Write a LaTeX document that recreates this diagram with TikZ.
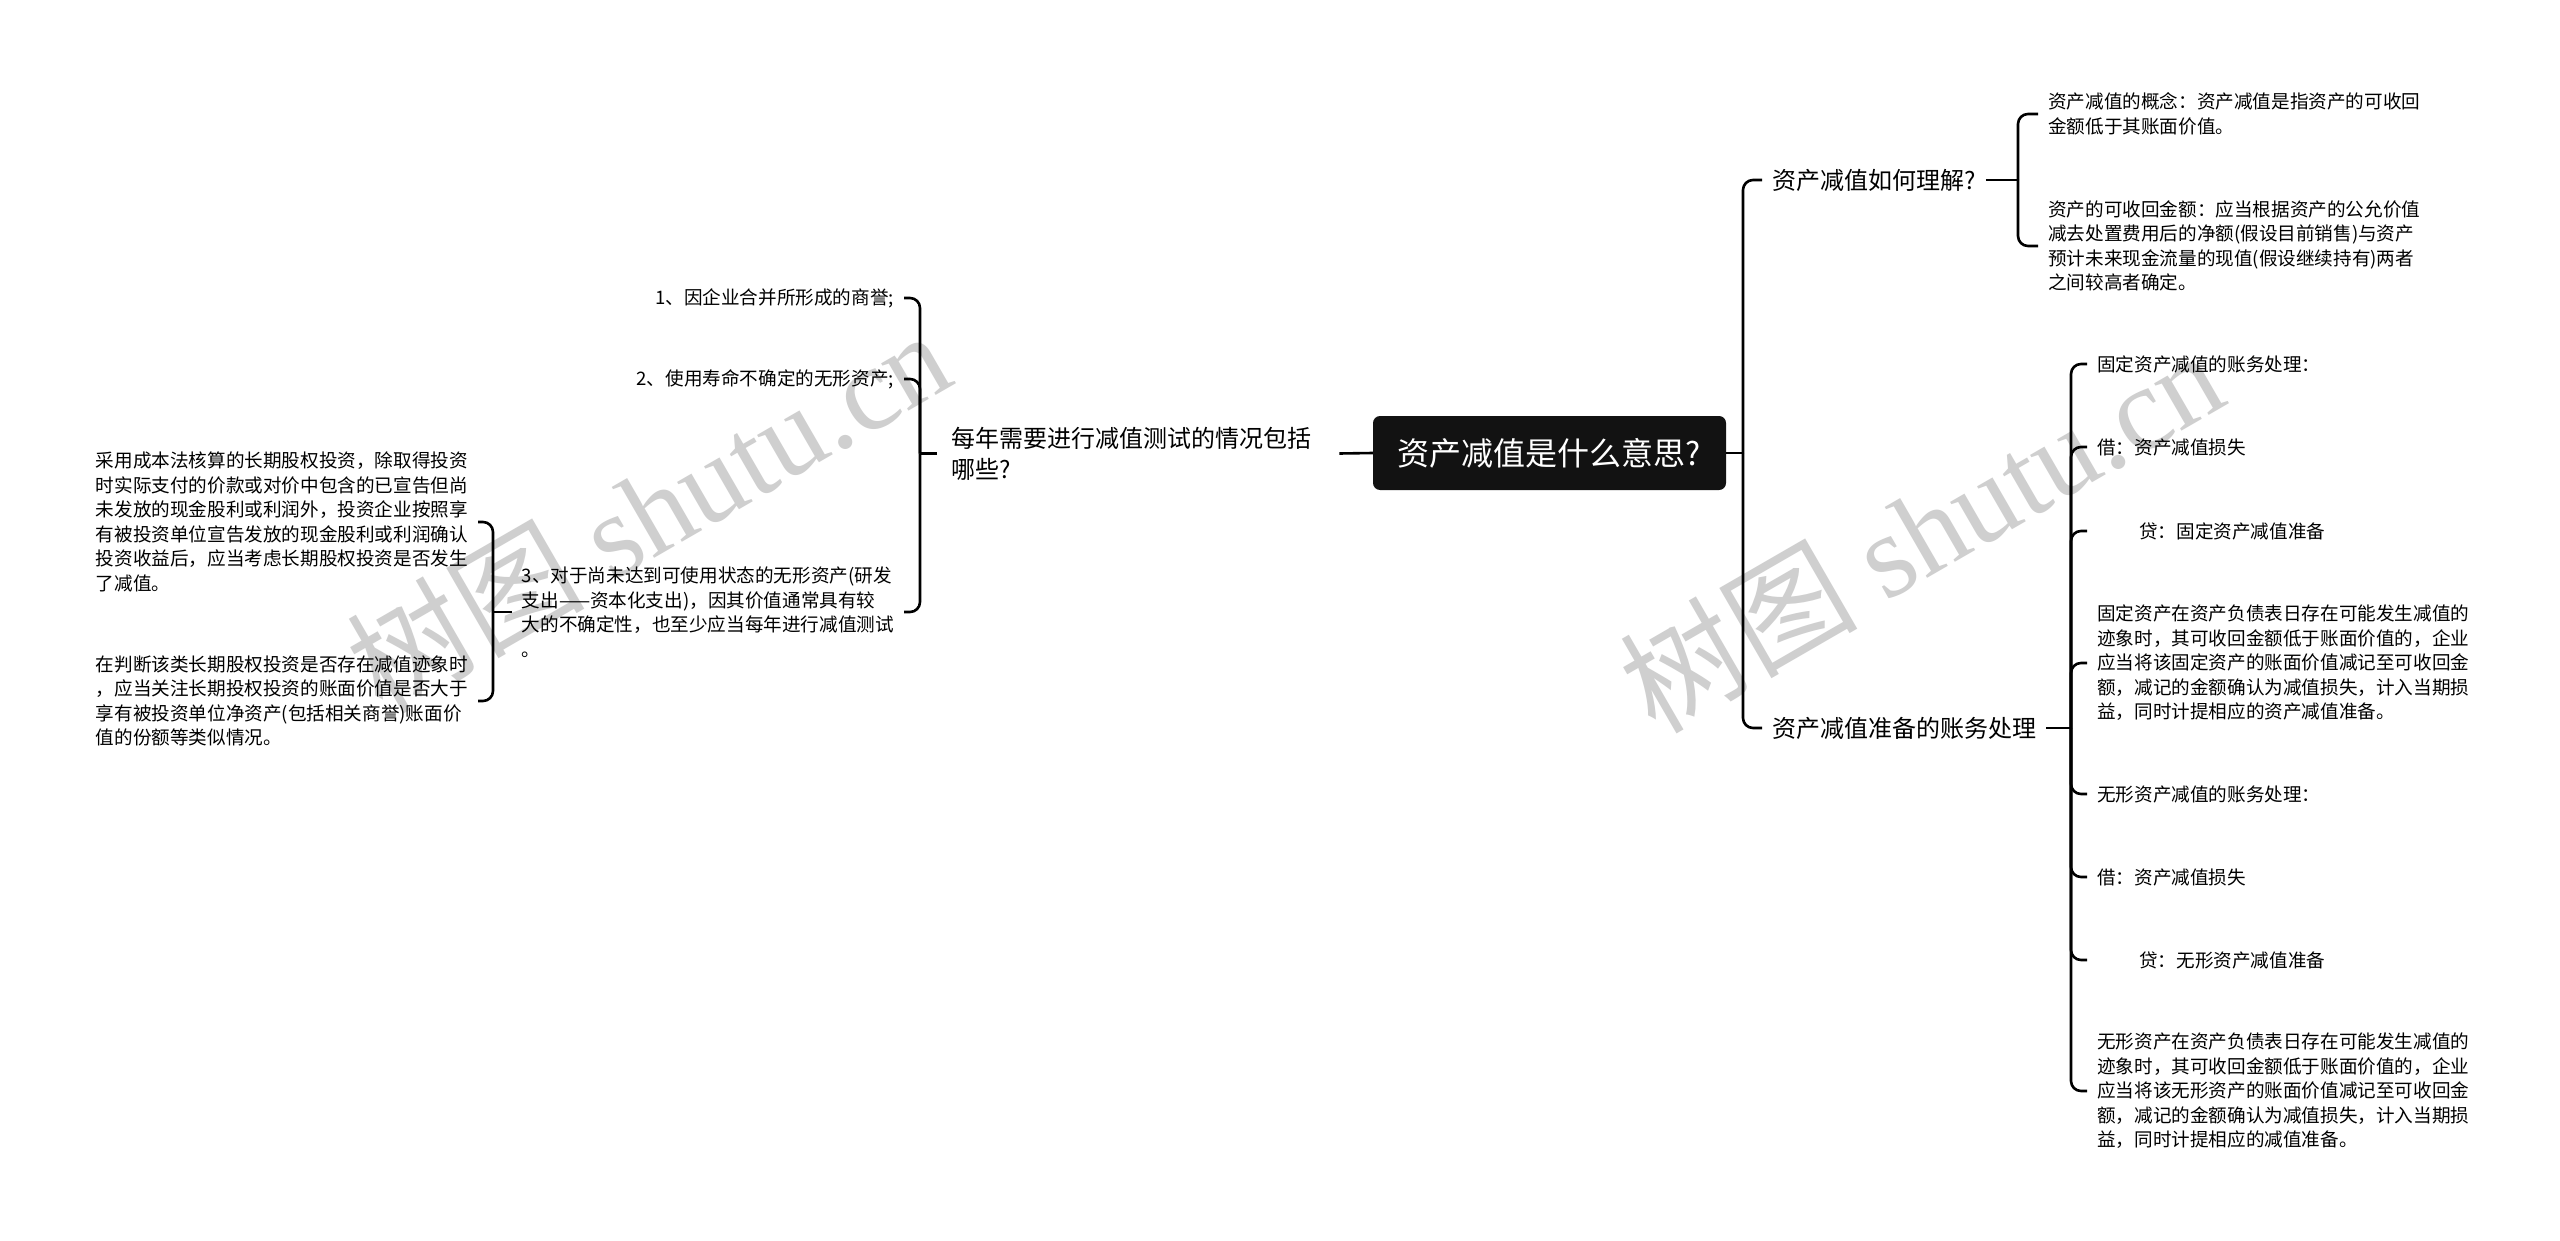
\documentclass[tikz,border=0pt]{standalone}
\usepackage{fontspec}
\setmainfont{Noto Sans CJK SC}
\newfontfamily\wmserif{Liberation Serif}
\newcommand{\fs}[2]{\fontsize{#1pt}{#2pt}\selectfont}
\tikzset{
  rootnode/.style={fill=black!93, text=white, rounded corners=7pt, font=\fs{32}{38}, minimum width=353pt, minimum height=74pt, inner sep=0pt},
  topic/.style={font=\fs{24}{31}, inner xsep=10pt, inner ysep=4pt, align=left},
  leaf/.style={font=\fs{18.6}{24.5}, align=left, inner xsep=10pt, inner ysep=3pt},
  conn/.style={line width=2.6pt, rounded corners=10pt},
  wm/.style={text=black!19, font=\fs{119}{119}, inner sep=0pt}
}
\begin{document}
\begin{tikzpicture}[x=1pt,y=-1pt]
\fill[white] (0,0) rectangle (2560,1241);
\useasboundingbox (0,0) rectangle (2560,1241);
% watermarks
\node[wm, rotate=30] (wm1) at (648,510) {树图 {\wmserif shutu.cn}};
\node[wm, rotate=30] (wm2) at (1921,530) {树图 {\wmserif shutu.cn}};
% root
\node[rootnode] (root) at (1549.5,453) {资产减值是什么意思?};
% right side
\node[topic, anchor=west] (r1) at (1762,180) {资产减值如何理解?};
\node[topic, anchor=west] (r2) at (1762,728) {资产减值准备的账务处理};
\coordinate (jr) at (1743,453);
\draw[conn] (root.east) -- (jr);
\draw[conn] (jr) |- (r1.west);
\draw[conn] (jr) |- (r2.west);
% R1 leaves
\node[leaf, anchor=west] (r1a) at (2038,114) {资产减值的概念：资产减值是指资产的可收回\\金额低于其账面价值。};
\node[leaf, anchor=west] (r1b) at (2038,246) {资产的可收回金额：应当根据资产的公允价值\\减去处置费用后的净额(假设目前销售)与资产\\预计未来现金流量的现值(假设继续持有)两者\\之间较高者确定。};
\coordinate (j1) at (2018,180);
\draw[conn] (r1.east) -- (j1);
\draw[conn] (j1) |- (r1a.west);
\draw[conn] (j1) |- (r1b.west);
% R2 leaves
\node[leaf, anchor=west] (r2a) at (2087,364) {固定资产减值的账务处理：};
\node[leaf, anchor=west] (r2b) at (2087,447) {借：资产减值损失};
\node[leaf, anchor=west] (r2c) at (2087,531) {\hspace*{42pt}贷：固定资产减值准备};
\node[leaf, anchor=west] (r2d) at (2087,663) {固定资产在资产负债表日存在可能发生减值的\\迹象时，其可收回金额低于账面价值的，企业\\应当将该固定资产的账面价值减记至可收回金\\额，减记的金额确认为减值损失，计入当期损\\益，同时计提相应的资产减值准备。};
\node[leaf, anchor=west] (r2e) at (2087,794) {无形资产减值的账务处理：};
\node[leaf, anchor=west] (r2f) at (2087,877) {借：资产减值损失};
\node[leaf, anchor=west] (r2g) at (2087,960) {\hspace*{42pt}贷：无形资产减值准备};
\node[leaf, anchor=west] (r2h) at (2087,1091) {无形资产在资产负债表日存在可能发生减值的\\迹象时，其可收回金额低于账面价值的，企业\\应当将该无形资产的账面价值减记至可收回金\\额，减记的金额确认为减值损失，计入当期损\\益，同时计提相应的减值准备。};
\coordinate (j2) at (2071,728);
\draw[conn] (r2.east) -- (j2);
\foreach \n in {r2a,r2b,r2c,r2d,r2e,r2f,r2g,r2h}{\draw[conn] (j2) |- (\n.west);}
% left side
\node[topic, text width=374pt, inner xsep=14pt, anchor=west] (l1) at (937,453.5) {每年需要进行减值测试的情况包括\\哪些?};
\draw[conn] (root.west) -- (l1.east);
\node[leaf, align=right, anchor=east] (la) at (904,298) {1、因企业合并所形成的商誉;};
\node[leaf, align=right, anchor=east] (lb) at (904,379) {2、使用寿命不确定的无形资产;};
\node[leaf, anchor=east] (lc) at (904,612) {3、对于尚未达到可使用状态的无形资产(研发\\支出——资本化支出)，因其价值通常具有较\\大的不确定性，也至少应当每年进行减值测试\\。};
\coordinate (jl) at (920,453.5);
\draw[conn] (l1.west) -- (jl);
\draw[conn] (jl) |- (la.east);
\draw[conn] (jl) |- (lb.east);
\draw[conn] (jl) |- (lc.east);
\node[leaf, anchor=east] (lc1) at (478,522) {采用成本法核算的长期股权投资，除取得投资\\时实际支付的价款或对价中包含的已宣告但尚\\未发放的现金股利或利润外，投资企业按照享\\有被投资单位宣告发放的现金股利或利润确认\\投资收益后，应当考虑长期股权投资是否发生\\了减值。};
\node[leaf, anchor=east] (lc2) at (478,701) {在判断该类长期股权投资是否存在减值迹象时\\，应当关注长期投权投资的账面价值是否大于\\享有被投资单位净资产(包括相关商誉)账面价\\值的份额等类似情况。};
\coordinate (jc) at (493,612);
\draw[conn] (lc.west) -- (jc);
\draw[conn] (jc) |- (lc1.east);
\draw[conn] (jc) |- (lc2.east);
\end{tikzpicture}
\end{document}
